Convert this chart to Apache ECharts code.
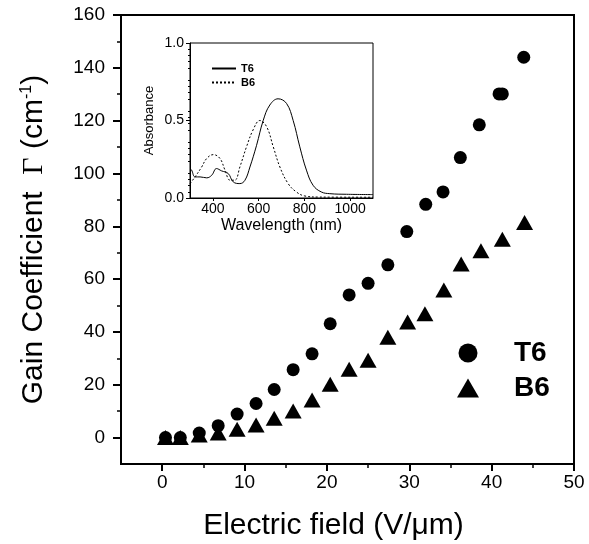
<!DOCTYPE html>
<html>
<head>
<meta charset="utf-8">
<script src="https://cdn.jsdelivr.net/npm/echarts@6/dist/echarts.min.js"></script>
<style>html,body{margin:0;padding:0;background:#fff}#c{width:589px;height:544px}</style>
</head>
<body>
<div id="c"></div>
<script>
// Main plot data: gain coefficient vs electric field
const fieldT6 = [0.4,2.2,4.5,6.8,9.1,11.4,13.6,15.9,18.2,20.4,22.7,25.0,27.4,29.7,32.0,34.1,36.2,38.5,40.9,41.3,43.9];
const gainT6  = [0,0,1.7,4.5,8.9,12.9,18.2,25.7,31.7,43.1,54.0,58.4,65.4,78.0,88.3,93.0,106.0,118.4,130.1,130.1,144.0];
const fieldB6 = [0.4,2.2,4.5,6.8,9.1,11.4,13.6,15.9,18.2,20.4,22.7,25.0,27.4,29.8,31.9,34.2,36.3,38.7,41.3,44.0];
const gainB6  = [0,0,1.0,1.7,3.2,4.8,7.3,10.1,14.2,20.2,25.9,29.3,38.0,43.8,46.9,55.9,65.7,70.7,75.1,81.4];

// Inset data: absorbance spectra
const wlT6  = [300,307,322,344,373,395,416,438,467,489,518,540,562,591,620,649,685,722,751,780,809,838,874,911,984,1100];
const absT6 = [0.19,0.18,0.136,0.136,0.13,0.147,0.19,0.175,0.158,0.104,0.093,0.114,0.20,0.34,0.50,0.60,0.64,0.61,0.50,0.33,0.18,0.082,0.039,0.028,0.024,0.022];
const wlB6  = [300,322,351,373,402,431,453,475,496,518,547,576,605,635,664,693,729,765,802,867,1100];
const absB6 = [0.093,0.136,0.20,0.255,0.28,0.255,0.18,0.115,0.115,0.20,0.33,0.44,0.50,0.46,0.33,0.20,0.093,0.039,0.013,0.006,0.005];

// Tick values
const xMajor = [0,10,20,30,40,50];
const xMinor = [5,15,25,35,45];
const yMajor = [0,20,40,60,80,100,120,140,160];
const yMinor = [10,30,50,70,90,110,130,150];
const insetXTicks = [400,600,800,1000];
const insetYTicks = [0,0.5,1.0];

const pair = (xs, ys) => xs.map((x, i) => [x, ys[i]]);
const F = 'Liberation Sans, Arial, sans-serif';
const black = '#000';

const chart = echarts.init(document.getElementById('c'), null, {renderer: 'canvas'});
chart.setOption({
  animation: false,
  backgroundColor: '#fff',
  textStyle: {fontFamily: F, color: black},
  grid: [
    {left: 121, right: 15, top: 15, bottom: 80, show: true, borderColor: black, borderWidth: 2, backgroundColor: 'transparent', outerBoundsMode: 'none', containLabel: false},
    {left: 190, top: 43, width: 183, height: 155, show: true, borderColor: black, borderWidth: 1, backgroundColor: '#fff', outerBoundsMode: 'none', containLabel: false}
  ],
  xAxis: [
    {gridIndex: 0, type: 'value', min: -5, max: 50, position: 'bottom',
     axisLine: {onZero: false, lineStyle: {color: black, width: 2}}, splitLine: {show: false},
     axisTick: {customValues: xMajor, length: 7, lineStyle: {color: black, width: 2}},
     axisLabel: {customValues: xMajor, margin: 9, fontSize: 19, color: black, fontFamily: F},
     name: 'Electric field (V/μm)', nameLocation: 'middle', nameGap: 47,
     nameTextStyle: {fontSize: 30, color: black, fontFamily: F, padding: [0, 28, 0, 0]}},
    {gridIndex: 0, type: 'value', min: -5, max: 50, position: 'bottom',
     axisLine: {show: false, onZero: false}, splitLine: {show: false},
     axisTick: {customValues: xMinor, length: 4, lineStyle: {color: black, width: 1.5}},
     axisLabel: {show: false}},
    {gridIndex: 1, type: 'value', min: 300, max: 1100, position: 'bottom',
     axisLine: {onZero: false, lineStyle: {color: black, width: 1}}, splitLine: {show: false},
     axisTick: {customValues: insetXTicks, length: 3, lineStyle: {color: black}},
     axisLabel: {customValues: insetXTicks, margin: 4, fontSize: 14, color: black, fontFamily: F,
                 formatter: v => String(v)},
     name: 'Wavelength (nm)', nameLocation: 'middle', nameGap: 20,
     nameTextStyle: {fontSize: 16, color: black, fontFamily: F}}
  ],
  yAxis: [
    {gridIndex: 0, type: 'value', min: -10, max: 160, position: 'left',
     axisLine: {onZero: false, lineStyle: {color: black, width: 2}}, splitLine: {show: false},
     axisTick: {customValues: yMajor, length: 8, lineStyle: {color: black, width: 2}},
     axisLabel: {customValues: yMajor, margin: 16, fontSize: 19, color: black, fontFamily: F},
     name: '{a|Gain Coefficient  }{g|Γ}{a| (cm}{s|-1}{a|)}', nameLocation: 'middle', nameGap: 72, nameRotate: 90,
     nameTextStyle: {color: black, rich: {
       a: {fontSize: 30, fontFamily: F, color: black},
       g: {fontSize: 30, fontFamily: 'Liberation Serif, Times New Roman, serif', color: black},
       s: {fontSize: 16, fontFamily: F, color: black, verticalAlign: 'top'}
     }}},
    {gridIndex: 0, type: 'value', min: -10, max: 160, position: 'left',
     axisLine: {show: false, onZero: false}, splitLine: {show: false},
     axisTick: {customValues: yMinor, length: 4, lineStyle: {color: black, width: 1.5}},
     axisLabel: {show: false}},
    {gridIndex: 1, type: 'value', min: 0, max: 1, position: 'left',
     axisLine: {onZero: false, lineStyle: {color: black, width: 1}}, splitLine: {show: false},
     axisTick: {customValues: insetYTicks, length: 4, lineStyle: {color: black}},
     minorTick: {show: true, splitNumber: 5, length: 2, lineStyle: {color: black}},
     axisLabel: {customValues: insetYTicks, margin: 6, fontSize: 14, color: black, fontFamily: F,
                 formatter: v => v.toFixed(1)},
     name: 'Absorbance', nameLocation: 'middle', nameGap: 34, nameRotate: 90,
     nameTextStyle: {fontSize: 13, color: black, fontFamily: F}}
  ],
  legend: [
    {data: [{name: 'T6', icon: 'circle'}, {name: 'B6', icon: 'triangle'}],
     orient: 'vertical', left: 452, top: 334, itemWidth: 22, itemHeight: 19, itemGap: 7,
     selectedMode: false,
     textStyle: {fontSize: 28, fontWeight: 'bold', color: black, fontFamily: F, padding: [0, 0, 0, 30]}},
    {data: ['T6 ', 'B6 '], orient: 'vertical', left: 206, top: 58, itemWidth: 24, itemHeight: 8, itemGap: 3,
     selectedMode: false, itemStyle: {opacity: 0},
     textStyle: {fontSize: 11, fontWeight: 'bold', color: black, fontFamily: F}}
  ],
  series: [
    {name: 'T6', type: 'scatter', xAxisIndex: 0, yAxisIndex: 0, symbol: 'circle', symbolSize: 13,
     itemStyle: {color: black, opacity: 1}, data: pair(fieldT6, gainT6)},
    {name: 'B6', type: 'scatter', xAxisIndex: 0, yAxisIndex: 0, symbol: 'triangle', symbolSize: [17, 15],
     itemStyle: {color: black, opacity: 1}, data: pair(fieldB6, gainB6)},
    {name: 'T6 ', type: 'line', xAxisIndex: 2, yAxisIndex: 2, showSymbol: false, symbol: 'none', smooth: 0.4,
     lineStyle: {color: black, width: 1}, itemStyle: {color: black}, data: pair(wlT6, absT6)},
    {name: 'B6 ', type: 'line', xAxisIndex: 2, yAxisIndex: 2, showSymbol: false, symbol: 'none', smooth: 0.4,
     lineStyle: {color: black, width: 1, type: [2, 2]}, itemStyle: {color: black}, data: pair(wlB6, absB6)}
  ]
});
</script>
</body>
</html>
